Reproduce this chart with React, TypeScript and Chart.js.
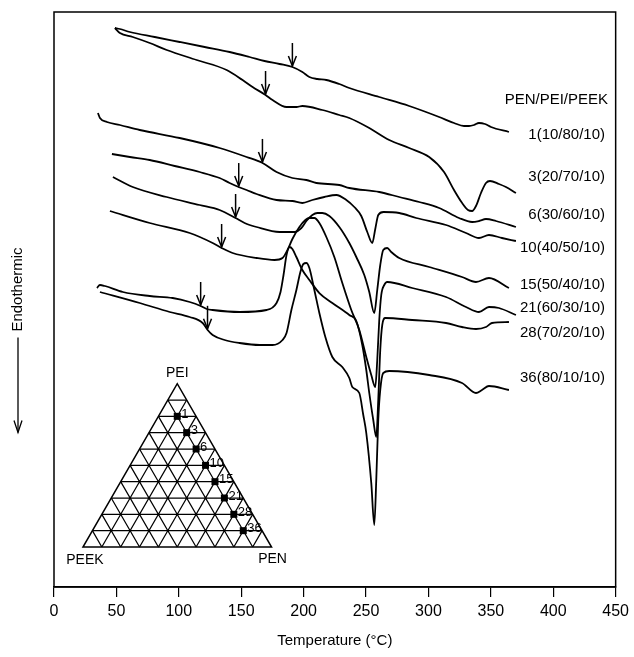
import { useEffect, useRef } from "react";
import { Chart, registerables } from "chart.js";

Chart.register(...registerables);

// DSC heating scans of PEN/PEI/PEEK blends.
// Each point: [temperature (°C), heat flow (arbitrary units, endotherm downward, curves offset)]
const scan1: [number, number][] = [
  [48.8, 559], [52.8, 558], [60.8, 555], [80.7, 550], [100.7, 545], [120.7, 540], [140.7, 535],
  [156.7, 530], [168.7, 526], [180.7, 523], [191, 520], [199, 515], [204.6, 510], [211, 508],
  [218.2, 507], [228.6, 503], [236.6, 499], [260.6, 490], [284.6, 481], [308.6, 470], [320.5, 464],
  [328.5, 461], [332.5, 461], [336.5, 462], [340.5, 464], [345.3, 463], [350.1, 460], [364.5, 455],
];
const scan3: [number, number][] = [
  [48.8, 559], [52.8, 554], [63.1, 550], [76.7, 544], [90.3, 537], [114.3, 527], [138.3, 517],
  [151.1, 507], [159.1, 500], [169.5, 492], [175.1, 487], [186.3, 480], [194.2, 480], [199, 481],
  [215, 477], [228.6, 472], [236.6, 469], [252.6, 459], [268.6, 447], [284.6, 439], [300.6, 430],
  [312.5, 415], [320.5, 397], [327, 384], [331.7, 377], [335, 376], [338.1, 381], [342.1, 394],
  [346.1, 404], [349.3, 406], [356.5, 403], [362.1, 400], [370.1, 394],
];
const scan6: [number, number][] = [
  [35.2, 474], [36.8, 469], [42.4, 465], [52.8, 462], [68.7, 457], [100.7, 449], [132.7, 439],
  [154.3, 430], [167.1, 424], [178.3, 415], [191, 409], [202.2, 407], [210.2, 404], [228.6, 402],
  [236.6, 399], [260.6, 395], [276.6, 390], [292.6, 385], [308.6, 379], [324.5, 369], [335, 365],
  [340.5, 366], [346.1, 368], [354.1, 366], [370.1, 360],
];
const scan10: [number, number][] = [
  [46.4, 433], [60.8, 430], [76.7, 427], [96.7, 421], [116.7, 415], [132.7, 409], [140.7, 404],
  [147.9, 400], [154.3, 397], [162.3, 393], [178.3, 387], [191, 386], [199, 384], [207, 387],
  [216.6, 390], [226.2, 392], [234.2, 387], [240.6, 380], [246.2, 371], [251, 355], [255, 344],
  [257.4, 358], [259.8, 372], [264, 375], [276.6, 374], [290.2, 369], [314.1, 362], [330.1, 354],
  [340.5, 349], [348.5, 352], [358.9, 349], [370.1, 346],
];
const scan15: [number, number][] = [
  [47.2, 410], [63.1, 400], [90.3, 390], [116.7, 382], [132.7, 377], [145.5, 369], [152.7, 364],
  [162.3, 360], [180.7, 355], [192.6, 355], [198.2, 359], [202.2, 366], [207, 372], [211, 374],
  [215, 374], [220.6, 371], [228.6, 360], [236.6, 344], [242.2, 330], [248.6, 312], [252.6, 295],
  [256.6, 274], [259, 297], [261.4, 322], [263.8, 337], [267, 339], [270.2, 335], [276.6, 329],
  [300.6, 320], [326.9, 310], [338.1, 305], [348.5, 309], [364.5, 299],
];
const scan21: [number, number][] = [
  [44.8, 376], [76.7, 364], [108.7, 354], [127.1, 344], [134.3, 339], [143.1, 334], [162.3, 329],
  [176.7, 327], [183.1, 329], [187.1, 337], [191, 348], [196.6, 360], [201.4, 367], [204.6, 369],
  [208.6, 369], [212.6, 364], [218.2, 350], [224.6, 330], [231, 304], [238.2, 277], [244.6, 257],
  [250.2, 230], [254.2, 212], [257.4, 200], [259, 227], [260.6, 267], [262.2, 292], [264.6, 302],
  [267, 305], [287, 299], [314.1, 290], [330.1, 280], [340.5, 275], [348.5, 280], [356.5, 279],
  [370.1, 272],
];
const scan28: [number, number][] = [
  [34.4, 299], [36.8, 302], [40.8, 301], [55.2, 295], [76.7, 291], [95.1, 289], [108.7, 285],
  [117.5, 281], [122.3, 278], [127.1, 277], [148.7, 275], [170.3, 277], [178.3, 284], [181.5, 295],
  [183.9, 312], [186.3, 332], [188.7, 340], [191, 338], [194.2, 330], [199, 317], [204.6, 307],
  [212.6, 294], [223, 284], [236.6, 272], [242.2, 266], [247, 242], [250.2, 217], [252.6, 194],
  [255.8, 167], [258.2, 150], [259.8, 187], [261.4, 237], [263, 262], [265.4, 269], [287, 267],
  [314.1, 264], [326.9, 260], [338.1, 258], [346.1, 260], [350.9, 264], [364.5, 265],
];
const scan36: [number, number][] = [
  [36.8, 295], [68.7, 284], [92.7, 275], [108.7, 270], [119.1, 264], [123.1, 257], [127.1, 252],
  [136.7, 247], [148.7, 244], [164.7, 242], [175.1, 242], [183.1, 247], [186.3, 254], [190.2, 277],
  [194.2, 297], [197.4, 315], [199.8, 323], [202.2, 324], [204.6, 319], [208.6, 297], [212.6, 274],
  [217.4, 250], [223, 230], [231, 220], [236.6, 209], [239, 200], [244.6, 194], [247.8, 172],
  [250.2, 154], [254.2, 104], [256.6, 62], [258.2, 107], [259.8, 167], [261.4, 197], [263.8, 214],
  [268.6, 216], [300.6, 212], [326.9, 204], [338.1, 194], [342.9, 197], [348.5, 201], [364.5, 197],
];

const scans = [scan1, scan3, scan6, scan10, scan15, scan21, scan28, scan36];

// Sample numbers and compositions (wt%)
const sampleIds = [1, 3, 6, 10, 15, 21, 28, 36];
const penPct = [10, 20, 30, 40, 50, 60, 70, 80];
const peiPct = [80, 70, 60, 50, 40, 30, 20, 10];
const peekPct = [10, 10, 10, 10, 10, 10, 10, 10];

// Glass transition temperatures marked with arrows (°C)
const tgArrowT = [191, 169.5, 167, 148, 145.5, 134.3, 117.5, 123];

const tempTicks = [0, 50, 100, 150, 200, 250, 300, 350, 400, 450];

// Layout of the annotations (heat-flow units / °C)
const labelYs = [452, 410, 372, 339, 302, 279, 254, 209];
const headerY = 487;
const labelRightT = 441.5;
const triBaseLeftT = 23.2;
const triBaseRightT = 174.3;
const triBaseY = 40;

const FONT = "'Liberation Sans', Arial, Helvetica, sans-serif";

function interpAt(data: { x: number; y: number }[], t: number): number {
  for (let i = 0; i < data.length - 1; i++) {
    const a = data[i], b = data[i + 1];
    if (t >= a.x && t <= b.x) {
      const f = (t - a.x) / (b.x - a.x || 1);
      return a.y + f * (b.y - a.y);
    }
  }
  return data[data.length - 1].y;
}

const decorPlugin = {
  id: "dscDecor",
  afterDatasetsDraw(chart: any) {
    const { ctx, chartArea: ca, scales } = chart;
    const xs = scales.x, ys = scales.y;
    ctx.save();
    ctx.strokeStyle = "#000";
    ctx.fillStyle = "#000";

    // frame
    ctx.lineWidth = 1.5;
    ctx.strokeRect(ca.left, ca.top, ca.right - ca.left, ca.bottom - ca.top);

    // Tg arrows
    ctx.lineWidth = 1.5;
    chart.data.datasets.forEach((ds: any, i: number) => {
      const t = tgArrowT[i];
      const px = xs.getPixelForValue(t);
      const py = ys.getPixelForValue(interpAt(ds.data, t));
      ctx.beginPath();
      ctx.moveTo(px, py - 24);
      ctx.lineTo(px, py - 1);
      ctx.stroke();
      ctx.beginPath();
      ctx.moveTo(px - 4, py - 11);
      ctx.lineTo(px, py - 1);
      ctx.lineTo(px + 4, py - 11);
      ctx.stroke();
    });

    // curve labels
    ctx.font = `15px ${FONT}`;
    ctx.textAlign = "right";
    ctx.textBaseline = "middle";
    const lx = xs.getPixelForValue(labelRightT);
    ctx.fillText("PEN/PEI/PEEK", lx + 3, ys.getPixelForValue(headerY));
    sampleIds.forEach((id, i) => {
      ctx.fillText(
        `${id}(${penPct[i]}/${peiPct[i]}/${peekPct[i]})`,
        lx,
        ys.getPixelForValue(labelYs[i])
      );
    });

    // y-axis caption with downward arrow
    const cx = ca.left - 36;
    const midY = (ca.top + ca.bottom) / 2;
    ctx.save();
    ctx.translate(cx, midY - 10);
    ctx.rotate(-Math.PI / 2);
    ctx.textAlign = "center";
    ctx.font = `15px ${FONT}`;
    ctx.fillText("Endothermic", 0, 0);
    ctx.restore();
    ctx.lineWidth = 1.3;
    ctx.beginPath();
    ctx.moveTo(cx, midY + 38);
    ctx.lineTo(cx, midY + 133);
    ctx.stroke();
    ctx.beginPath();
    ctx.moveTo(cx - 4, midY + 121);
    ctx.lineTo(cx, midY + 133);
    ctx.lineTo(cx + 4, midY + 121);
    ctx.stroke();

    // ternary composition diagram
    const L = { x: xs.getPixelForValue(triBaseLeftT), y: ys.getPixelForValue(triBaseY) };
    const R = { x: xs.getPixelForValue(triBaseRightT), y: L.y };
    const side = R.x - L.x;
    const A = { x: (L.x + R.x) / 2, y: L.y - (side * Math.sqrt(3)) / 2 };
    const pt = (pen: number, pei: number, peek: number) => ({
      x: pei * A.x + peek * L.x + pen * R.x,
      y: pei * A.y + peek * L.y + pen * R.y,
    });
    ctx.lineWidth = 1.25;
    ctx.beginPath();
    for (let k = 1; k < 10; k++) {
      const f = k / 10;
      // constant PEI
      let p = pt(0, f, 1 - f), q = pt(1 - f, f, 0);
      ctx.moveTo(p.x, p.y); ctx.lineTo(q.x, q.y);
      // constant PEN
      p = pt(f, 0, 1 - f); q = pt(f, 1 - f, 0);
      ctx.moveTo(p.x, p.y); ctx.lineTo(q.x, q.y);
      // constant PEEK
      p = pt(1 - f, 0, f); q = pt(0, 1 - f, f);
      ctx.moveTo(p.x, p.y); ctx.lineTo(q.x, q.y);
    }
    ctx.stroke();
    ctx.lineWidth = 1.5;
    ctx.beginPath();
    ctx.moveTo(L.x, L.y); ctx.lineTo(R.x, R.y); ctx.lineTo(A.x, A.y); ctx.closePath();
    ctx.stroke();

    ctx.font = `13px ${FONT}`;
    ctx.textAlign = "left";
    ctx.textBaseline = "middle";
    sampleIds.forEach((id, i) => {
      const p = pt(penPct[i] / 100, peiPct[i] / 100, peekPct[i] / 100);
      ctx.fillRect(p.x - 3.5, p.y - 3.5, 7, 7);
      ctx.fillText(String(id), p.x + 4, p.y - 2);
    });

    ctx.font = `14px ${FONT}`;
    ctx.textAlign = "center";
    ctx.fillText("PEI", A.x, A.y - 11);
    ctx.fillText("PEEK", L.x + 2, L.y + 13);
    ctx.fillText("PEN", R.x + 1, R.y + 12);

    ctx.restore();
  },
};

export default function App() {
  const canvasRef = useRef<HTMLCanvasElement | null>(null);

  useEffect(() => {
    const canvas = canvasRef.current;
    if (!canvas) return;
    const chart = new Chart(canvas, {
      type: "line",
      data: {
        datasets: scans.map((s, i) => ({
          label: `${sampleIds[i]}`,
          data: s.map(([t, h]) => ({ x: t, y: h })),
          borderColor: "#000",
          borderWidth: 1.8,
          pointRadius: 0,
          fill: false,
          cubicInterpolationMode: "monotone" as const,
        })),
      },
      options: {
        animation: false,
        responsive: false,
        devicePixelRatio: 1,
        layout: { padding: { left: 54, top: 12, right: 17, bottom: 0 } },
        plugins: { legend: { display: false }, tooltip: { enabled: false } },
        scales: {
          x: {
            type: "linear",
            min: 0,
            max: 450,
            afterBuildTicks: (scale: any) => {
              scale.ticks = tempTicks.map((v) => ({ value: v }));
            },
            afterFit: (scale: any) => {
              scale.height = 70;
            },
            grid: {
              drawOnChartArea: false,
              drawTicks: true,
              tickLength: 10,
              color: "#000",
              lineWidth: 1.2,
            },
            border: { display: true, color: "#000", width: 1.5 },
            ticks: {
              color: "#000",
              padding: 5,
              maxRotation: 0,
              font: { family: FONT, size: 16 },
            },
            title: {
              display: true,
              text: "Temperature (°C)",
              color: "#000",
              font: { family: FONT, size: 15 },
              padding: { top: 0, bottom: 7 },
            },
          },
          y: {
            type: "linear",
            min: 0,
            max: 575,
            display: false,
          },
        },
      },
      plugins: [decorPlugin],
    });
    return () => chart.destroy();
  }, []);

  return (
    <div style={{ position: "fixed", left: 0, top: 0, width: 634, height: 657, background: "#fff" }}>
      <canvas ref={canvasRef} width={634} height={657} />
    </div>
  );
}
